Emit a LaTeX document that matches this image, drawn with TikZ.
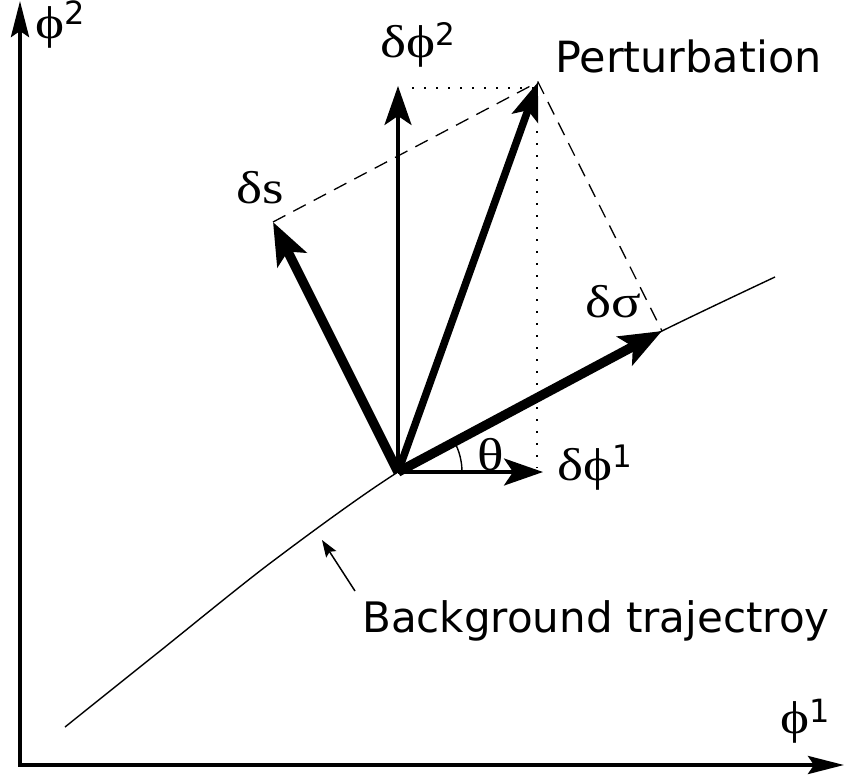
\documentclass[tikz,border=0pt]{standalone}
\usepackage{fontspec}
\setmainfont{Liberation Serif}
\newfontfamily\greekfam[FakeStretch=1.2]{Liberation Serif}
\newfontfamily\sansfam{DejaVu Sans}
\usetikzlibrary{arrows.meta}
\newcommand\mysup[3]{\raisebox{#1}{\sansfam\fontsize{#2}{#2}\selectfont #3}}
\begin{document}
\begin{tikzpicture}[x=1pt,y=-1pt,
  axis/.style={line width=4pt, -{Stealth[length=36pt,width=18pt,inset=6pt]}},
  thinvec/.style={line width=3.5pt, -{Stealth[length=39pt,width=27pt,inset=9pt]}},
  thickvec/.style={line width=9.5pt, -{Stealth[length=42pt,width=32pt,inset=9pt]}},
  pertvec/.style={line width=7.5pt, -{Stealth[length=38pt,width=27pt,inset=8pt]}},
  dashline/.style={line width=1.3pt, dash pattern=on 14pt off 9pt},
  dotline/.style={line width=1.6pt, dash pattern=on 2pt off 10pt},
  greek/.style={inner sep=0pt, anchor=base west, font=\greekfam\fontsize{46}{46}\selectfont},
  word/.style={inner sep=0pt, anchor=base west, font=\sansfam\fontsize{42}{42}\selectfont},
  pointer/.style={line width=1.5pt, -{Stealth[length=17pt,width=12pt,inset=3pt]}}
]
\useasboundingbox (0,0) rectangle (846,776);
% axes
\coordinate (corner) at (20,765);
\coordinate (ytip) at (20,1);
\coordinate (xtip) at (844,765);
\draw[axis, line cap=rect] (corner) -- (ytip);
\draw[axis, line cap=rect] (corner) -- (xtip);
\node[greek] (lphi2) at (35,39) {ϕ\mysup{14pt}{32}{2}};
\node[greek] (lphi1) at (780,733) {ϕ\mysup{11pt}{32}{1}};
% key points
\coordinate (O) at (398,472);
\coordinate (S) at (273,222);
\coordinate (Sig) at (662,331);
\coordinate (P) at (538,82);
\coordinate (F2) at (398,86);
\coordinate (F1) at (543,472);
\coordinate (F2d) at (412,88);
\coordinate (Pd) at (537,88);
\coordinate (F1d) at (537,468);
% background trajectory
\draw[line width=1.4pt] plot[smooth, tension=0.5] coordinates
  {(65,727) (160,651) (273,561) (398,472) (530,399) (662,331) (775,277)};
% construction lines
\draw[dotline] (F2d) -- (Pd) -- (F1d);
\draw[dashline] (S) -- (P) -- (Sig);
% vectors
\draw[thinvec] (O) -- (F2);
\draw[thinvec] (O) -- (F1);
\draw[pertvec] (O) -- (P);
\draw[thickvec] (O) -- (S);
\draw[thickvec] (O) -- (Sig);
% angle
\draw[line width=1.4pt] (O) ++(64,0) arc[start angle=0, end angle=-28.3, radius=64];
\node[greek] (ltheta) at (477,470) {θ};
% labels
\node[greek] (ldphi2) at (380,58) {δϕ\mysup{13pt}{31}{2}};
\node[greek] (ldphi1) at (557,480) {δϕ\mysup{13pt}{31}{1}};
\node[greek] (lds) at (236,203) {δs};
\node[greek] (ldsig) at (585,317) {δσ};
\node[word, font=\sansfam\fontsize{43}{43}\selectfont] (lpert) at (555,73) {Perturbation};
\node[word] (lbg) at (362,632) {Background trajectroy};
\coordinate (ptail) at (355,591);
\coordinate (phead) at (322,540);
\draw[pointer] (ptail) -- (phead);
\end{tikzpicture}
\end{document}
